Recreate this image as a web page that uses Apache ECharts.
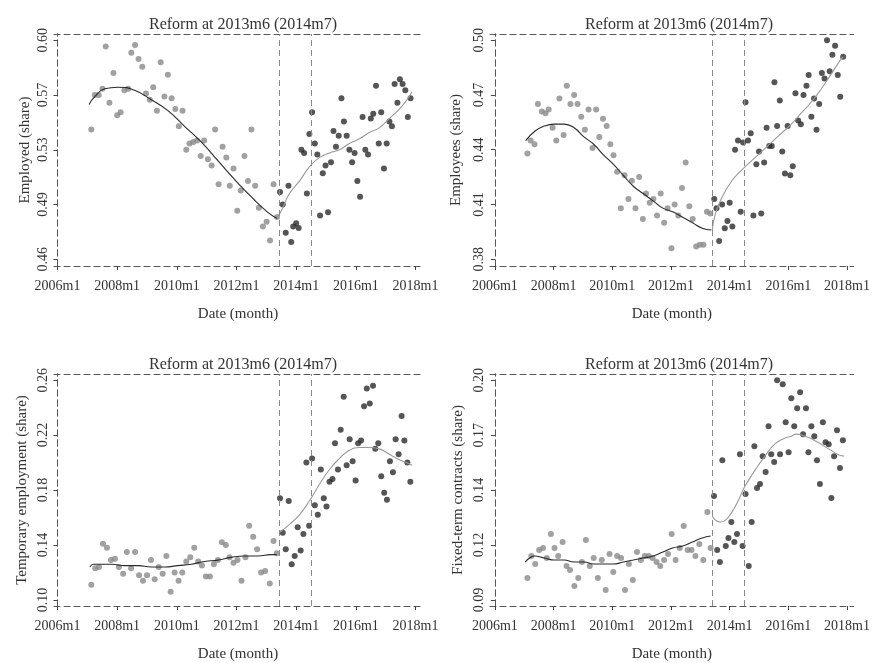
<!DOCTYPE html>
<html>
<head>
<meta charset="utf-8">
<title>Reform at 2013m6 (2014m7)</title>
<script src="https://cdn.jsdelivr.net/npm/echarts@6/dist/echarts.min.js"></script>
<style>
  html, body { margin: 0; background: #fff; }
  #chart { width: 873px; height: 663px; }
</style>
</head>
<body>
<div id="chart"></div>
<script>
// x values are months counted from 2006m1 (= 0)
const panelTitle = 'Reform at 2013m6 (2014m7)';
const reformDates = [89, 102]; // 2013m6, 2014m7
const xTicks = [0, 24, 48, 72, 96, 120, 144];

// Employed (share)
const employedTicks = [0.46, 0.495, 0.53, 0.565, 0.60];
const employedLabels = ['0.46', '0.49', '0.53', '0.57', '0.60'];
const employedPre = [[13.6,0.543],[15.0,0.565],[16.6,0.565],[18.1,0.569],[19.4,0.596],[20.9,0.560],[22.5,0.579],[24.0,0.552],[25.4,0.554],[26.9,0.568],[28.4,0.569],[29.7,0.592],[31.2,0.597],[32.6,0.588],[34.1,0.583],[35.6,0.566],[37.1,0.562],[38.5,0.570],[40.0,0.555],[41.5,0.586],[43.0,0.564],[44.4,0.578],[45.9,0.563],[47.4,0.556],[48.8,0.545],[50.3,0.555],[51.8,0.530],[53.1,0.534],[54.6,0.535],[56.1,0.536],[57.6,0.526],[59.0,0.536],[60.5,0.524],[62.0,0.520],[63.4,0.543],[64.8,0.508],[66.4,0.532],[67.9,0.525],[69.3,0.507],[70.8,0.518],[72.3,0.491],[73.7,0.504],[75.2,0.526],[76.6,0.510],[78.0,0.543],[79.5,0.507],[81.0,0.493],[82.6,0.481],[84.1,0.484],[85.5,0.472],[86.9,0.508],[88.3,0.487]];
const employedPost = [[89.5,0.503],[90.6,0.495],[91.8,0.477],[92.9,0.507],[94.0,0.471],[94.8,0.481],[96.0,0.483],[97.0,0.480],[98.1,0.530],[99.2,0.528],[100.3,0.502],[101.3,0.540],[102.4,0.554],[103.5,0.534],[104.5,0.527],[105.6,0.488],[106.7,0.515],[107.8,0.520],[108.8,0.490],[110.0,0.522],[111.0,0.542],[112.0,0.532],[113.1,0.539],[114.2,0.563],[115.2,0.548],[116.3,0.539],[117.4,0.530],[118.5,0.522],[119.5,0.528],[120.6,0.510],[121.7,0.500],[122.7,0.551],[123.8,0.530],[124.9,0.527],[126.0,0.550],[127.0,0.553],[128.1,0.571],[129.2,0.534],[130.2,0.554],[131.3,0.518],[132.4,0.534],[133.5,0.548],[134.5,0.545],[135.6,0.572],[136.7,0.560],[137.7,0.575],[138.8,0.572],[139.9,0.568],[140.9,0.551],[142.0,0.563]];
const employedFitPre = [[12.7,0.559],[15.0,0.564],[19.0,0.569],[24.3,0.570],[31.0,0.568],[37.7,0.562],[44.4,0.555],[51.1,0.545],[57.8,0.535],[64.5,0.523],[71.2,0.511],[77.9,0.500],[84.6,0.490],[88.4,0.486]];
const employedFitPost = [[88.4,0.486],[90.6,0.493],[93.3,0.502],[97.3,0.510],[101.3,0.519],[105.3,0.525],[109.4,0.528],[113.4,0.530],[117.4,0.534],[121.4,0.537],[125.4,0.541],[129.4,0.544],[133.5,0.550],[137.5,0.556],[140.1,0.561],[142.6,0.567]];

// Employees (share)
const employeesTicks = [0.38, 0.41, 0.44, 0.47, 0.50];
const employeesLabels = ['0.38', '0.41', '0.44', '0.47', '0.50'];
const employeesPre = [[13.3,0.438],[14.6,0.445],[16.2,0.443],[17.6,0.465],[19.2,0.461],[20.7,0.460],[22.0,0.462],[23.6,0.452],[25.1,0.445],[26.4,0.468],[28.1,0.448],[29.4,0.475],[30.9,0.465],[32.4,0.470],[33.8,0.465],[35.3,0.458],[36.8,0.451],[38.3,0.462],[39.9,0.441],[41.4,0.462],[42.7,0.447],[44.2,0.457],[45.7,0.453],[47.2,0.443],[48.5,0.437],[50.0,0.428],[51.5,0.408],[53.0,0.426],[54.6,0.413],[56.0,0.423],[57.5,0.408],[59.0,0.425],[60.5,0.402],[61.8,0.416],[63.3,0.411],[64.8,0.413],[66.3,0.404],[67.8,0.416],[69.2,0.400],[70.6,0.408],[72.2,0.386],[73.5,0.410],[75.0,0.404],[76.5,0.419],[78.0,0.433],[79.5,0.409],[80.9,0.402],[82.3,0.387],[83.8,0.388],[85.3,0.388],[86.7,0.406],[88.1,0.405]];
const employeesPost = [[89.7,0.413],[90.6,0.408],[91.7,0.390],[92.9,0.410],[94.0,0.397],[95.1,0.401],[96.0,0.411],[97.1,0.398],[98.2,0.440],[99.4,0.445],[100.5,0.406],[101.5,0.444],[102.5,0.466],[103.5,0.445],[104.6,0.449],[105.7,0.404],[106.9,0.432],[108.0,0.439],[108.9,0.405],[110.1,0.433],[111.1,0.452],[112.2,0.442],[113.2,0.442],[114.3,0.477],[115.4,0.453],[116.5,0.467],[117.5,0.439],[118.6,0.427],[119.7,0.453],[120.8,0.426],[121.8,0.431],[122.9,0.471],[124.0,0.456],[125.1,0.454],[126.2,0.470],[127.4,0.475],[128.3,0.481],[129.4,0.458],[130.5,0.468],[131.5,0.451],[132.6,0.465],[133.7,0.482],[134.8,0.479],[135.8,0.500],[136.9,0.483],[138.0,0.492],[139.1,0.497],[140.2,0.481],[141.2,0.469],[142.4,0.491]];
const employeesFitPre = [[12.6,0.445],[16.2,0.450],[20.3,0.453],[24.3,0.454],[28.3,0.454],[32.4,0.452],[36.4,0.447],[40.4,0.443],[44.5,0.437],[48.5,0.432],[52.5,0.426],[56.6,0.420],[60.6,0.416],[64.7,0.412],[68.7,0.408],[72.7,0.406],[76.8,0.403],[80.8,0.400],[84.8,0.397],[88.5,0.396]];
const employeesFitPost = [[88.9,0.396],[90.2,0.405],[92.9,0.414],[96.9,0.423],[101.0,0.429],[105.0,0.434],[109.1,0.439],[113.1,0.444],[117.1,0.449],[121.2,0.454],[125.2,0.460],[129.3,0.466],[133.3,0.473],[137.3,0.481],[140.7,0.488],[142.4,0.491]];

// Temporary employment (share)
const temporaryTicks = [0.10, 0.14, 0.18, 0.22, 0.26];
const temporaryLabels = ['0.10', '0.14', '0.18', '0.22', '0.26'];
const temporaryPre = [[13.6,0.111],[15.2,0.123],[16.7,0.124],[18.3,0.141],[19.9,0.138],[21.5,0.129],[23.1,0.130],[24.7,0.124],[26.4,0.119],[27.9,0.135],[29.6,0.123],[31.2,0.135],[32.8,0.118],[34.4,0.114],[36.0,0.118],[37.6,0.129],[39.1,0.115],[40.7,0.124],[42.3,0.119],[43.8,0.132],[45.5,0.106],[47.1,0.120],[48.7,0.114],[50.2,0.120],[51.8,0.128],[53.4,0.131],[55.0,0.138],[56.6,0.128],[58.1,0.125],[59.7,0.117],[61.3,0.117],[62.9,0.126],[64.5,0.129],[66.1,0.142],[67.7,0.140],[69.2,0.131],[70.8,0.127],[72.4,0.129],[74.0,0.114],[75.6,0.131],[77.1,0.154],[78.7,0.146],[80.3,0.137],[81.9,0.120],[83.5,0.121],[85.4,0.112],[86.9,0.143],[88.2,0.134]];
const temporaryPost = [[89.5,0.174],[90.6,0.149],[91.8,0.137],[93.0,0.172],[94.2,0.126],[95.4,0.132],[96.6,0.153],[97.8,0.136],[98.9,0.148],[100.1,0.200],[101.2,0.154],[102.4,0.203],[103.5,0.169],[104.7,0.162],[105.9,0.195],[107.1,0.174],[108.2,0.168],[109.4,0.186],[110.6,0.188],[111.6,0.214],[112.8,0.195],[113.9,0.224],[115.1,0.248],[116.3,0.198],[117.5,0.217],[118.7,0.201],[119.9,0.187],[120.9,0.214],[122.1,0.216],[123.3,0.241],[124.4,0.254],[125.6,0.243],[126.9,0.256],[127.8,0.210],[129.0,0.214],[130.2,0.190],[131.4,0.178],[132.5,0.173],[133.7,0.201],[134.9,0.193],[136.0,0.217],[137.2,0.206],[138.4,0.234],[139.5,0.216],[140.7,0.200],[141.9,0.186]];
const temporaryFitPre = [[13.0,0.124],[14.5,0.126],[16.3,0.126],[21.7,0.126],[27.0,0.125],[32.4,0.125],[37.7,0.124],[43.1,0.124],[48.4,0.125],[53.8,0.126],[59.2,0.128],[64.5,0.129],[69.9,0.131],[75.2,0.132],[80.6,0.132],[86.0,0.133],[88.2,0.133]];
const temporaryFitPost = [[89.3,0.149],[93.3,0.155],[97.3,0.162],[101.3,0.172],[105.3,0.184],[109.4,0.195],[113.4,0.203],[117.4,0.209],[121.4,0.211],[125.4,0.211],[129.4,0.210],[133.5,0.206],[137.5,0.202],[140.2,0.200],[142.6,0.198]];

// Fixed-term contracts (share)
const fixedTicks = [0.09, 0.1175, 0.145, 0.1725, 0.20];
const fixedLabels = ['0.09', '0.12', '0.14', '0.17', '0.20'];
const fixedPre = [[13.3,0.101],[14.9,0.112],[16.5,0.108],[18.1,0.115],[19.7,0.116],[21.2,0.111],[22.9,0.123],[24.4,0.116],[25.9,0.112],[27.7,0.119],[29.3,0.107],[30.7,0.105],[32.5,0.097],[34.1,0.101],[35.6,0.109],[37.2,0.120],[38.8,0.107],[40.4,0.111],[42.1,0.101],[43.7,0.110],[45.3,0.095],[46.9,0.113],[48.4,0.104],[50.0,0.112],[51.6,0.111],[53.2,0.095],[54.8,0.108],[56.4,0.100],[58.1,0.114],[59.7,0.110],[61.3,0.112],[62.9,0.112],[64.5,0.111],[66.1,0.109],[67.6,0.107],[69.2,0.110],[70.8,0.113],[72.3,0.123],[73.9,0.110],[75.6,0.116],[77.2,0.127],[78.8,0.115],[80.4,0.115],[82.0,0.112],[83.6,0.118],[85.2,0.110],[86.9,0.134],[88.2,0.116]];
const fixedPost = [[89.6,0.142],[90.9,0.115],[92.0,0.109],[93.0,0.160],[94.4,0.117],[95.5,0.121],[96.7,0.129],[97.9,0.119],[99.0,0.123],[100.2,0.163],[101.3,0.117],[102.5,0.143],[103.8,0.107],[105.0,0.129],[106.1,0.167],[107.2,0.146],[108.4,0.148],[109.5,0.162],[110.7,0.154],[111.9,0.177],[113.0,0.163],[114.2,0.159],[115.4,0.200],[116.6,0.163],[117.7,0.198],[118.9,0.179],[120.1,0.164],[121.2,0.191],[122.4,0.177],[123.6,0.186],[124.8,0.194],[126.0,0.173],[127.2,0.186],[128.2,0.164],[129.4,0.177],[130.6,0.172],[131.7,0.160],[132.9,0.148],[134.1,0.179],[135.2,0.169],[136.5,0.168],[137.6,0.141],[138.7,0.162],[139.9,0.175],[141.1,0.156],[142.3,0.170]];
const fixedFitPre = [[12.4,0.109],[14.2,0.111],[16.2,0.112],[20.3,0.111],[24.3,0.110],[28.3,0.110],[32.4,0.109],[36.4,0.109],[40.4,0.108],[44.5,0.108],[48.5,0.108],[52.5,0.109],[56.6,0.110],[60.6,0.111],[64.7,0.112],[68.7,0.114],[72.7,0.116],[76.8,0.117],[80.8,0.119],[84.8,0.121],[88.2,0.122]];
const fixedFitPost = [[88.9,0.132],[90.2,0.130],[92.2,0.129],[94.3,0.130],[96.9,0.134],[99.6,0.140],[102.3,0.147],[106.4,0.155],[110.4,0.162],[114.4,0.168],[118.5,0.171],[121.2,0.172],[123.2,0.173],[126.6,0.172],[130.6,0.170],[134.6,0.167],[137.3,0.165],[140.0,0.163],[142.7,0.162]];

const panels = [
  { name: 'Employed (share)', ticks: employedTicks, labels: employedLabels, yMin: 0.4557, yMax: 0.6040,
    pre: employedPre, post: employedPost, fitPre: employedFitPre, fitPost: employedFitPost },
  { name: 'Employees (share)', ticks: employeesTicks, labels: employeesLabels, yMin: 0.3763, yMax: 0.5034,
    pre: employeesPre, post: employeesPost, fitPre: employeesFitPre, fitPost: employeesFitPost },
  { name: 'Temporary employment (share)', ticks: temporaryTicks, labels: temporaryLabels, yMin: 0.0956, yMax: 0.2645,
    pre: temporaryPre, post: temporaryPost, fitPre: temporaryFitPre, fitPost: temporaryFitPost },
  { name: 'Fixed-term contracts (share)', ticks: fixedTicks, labels: fixedLabels, yMin: 0.0870, yMax: 0.2031,
    pre: fixedPre, post: fixedPost, fitPre: fixedFitPre, fitPost: fixedFitPost }
];

// plot boxes (pixels) and x ranges of each panel
const layout = [
  { left: 54, top: 34, width: 368, height: 232, xMin: -1.4, xMax: 146.6, titleTop: 12, nameGap: 21 },
  { left: 490, top: 34, width: 368, height: 232, xMin: -2.0, xMax: 146.7, titleTop: 12, nameGap: 26 },
  { left: 54, top: 374, width: 368, height: 232, xMin: -1.4, xMax: 146.6, titleTop: 352, nameGap: 24 },
  { left: 490, top: 374, width: 368, height: 232, xMin: -2.0, xMax: 146.7, titleTop: 352, nameGap: 24 }
];

const FONT = '"Liberation Serif", "DejaVu Serif", "Times New Roman", serif';
const TEXT = '#333';
const boxLine = { show: true, lineStyle: { color: '#555', width: 1, type: [6, 4] } };
const hidden = { show: false };

function monthLabel(m) {
  return (2006 + Math.floor(m / 12)) + 'm' + (m % 12 + 1);
}

const chart = echarts.init(document.getElementById('chart'));
const option = {
  animation: false,
  backgroundColor: '#fff',
  textStyle: { fontFamily: FONT },
  title: [], grid: [], xAxis: [], yAxis: [], series: []
};

panels.forEach((p, i) => {
  const g = layout[i];
  option.title.push({
    text: panelTitle,
    left: g.left + g.width / 2,
    top: g.titleTop,
    textAlign: 'center',
    textStyle: { fontFamily: FONT, fontSize: 16, fontWeight: 'normal', color: TEXT }
  });
  option.grid.push({ left: g.left, top: g.top, width: g.width, height: g.height });

  // bottom axis + top border
  option.xAxis.push({
    type: 'value', gridIndex: i, min: g.xMin, max: g.xMax,
    name: 'Date (month)', nameLocation: 'middle', nameGap: 41,
    nameTextStyle: { fontFamily: FONT, fontSize: 15, color: TEXT },
    axisLine: boxLine,
    axisTick: { show: true, length: 4, customValues: xTicks, lineStyle: { color: '#444' } },
    axisLabel: { customValues: xTicks, formatter: monthLabel, margin: 13, fontSize: 14, color: TEXT, fontFamily: FONT },
    splitLine: hidden
  });
  option.xAxis.push({
    type: 'value', gridIndex: i, position: 'top', min: g.xMin, max: g.xMax,
    axisLine: boxLine, axisTick: hidden, axisLabel: hidden, splitLine: hidden
  });

  // left axis + right border
  option.yAxis.push({
    type: 'value', gridIndex: i, min: p.yMin, max: p.yMax,
    name: p.name, nameLocation: 'middle', nameGap: g.nameGap, nameRotate: 90,
    nameTextStyle: { fontFamily: FONT, fontSize: 15, color: TEXT },
    axisLine: boxLine,
    axisTick: { show: true, length: 4, customValues: p.ticks, lineStyle: { color: '#444' } },
    axisLabel: {
      customValues: p.ticks, rotate: 90, margin: 4, fontSize: 14, color: TEXT, fontFamily: FONT,
      formatter: v => p.labels[p.ticks.findIndex(t => Math.abs(t - v) < 1e-6)]
    },
    splitLine: hidden
  });
  option.yAxis.push({
    type: 'value', gridIndex: i, position: 'right', min: p.yMin, max: p.yMax,
    axisLine: boxLine, axisTick: hidden, axisLabel: hidden, splitLine: hidden
  });

  const xi = i * 2, yi = i * 2;
  option.series.push({
    type: 'scatter', xAxisIndex: xi, yAxisIndex: yi, data: p.pre,
    symbolSize: 6, itemStyle: { color: '#8a8a8a' }, z: 2,
    markLine: {
      silent: true, symbol: ['none', 'none'], label: hidden,
      lineStyle: { color: '#8a8a8a', width: 1, type: [6, 4] },
      data: reformDates.map(d => ({ xAxis: d }))
    }
  });
  option.series.push({
    type: 'scatter', xAxisIndex: xi, yAxisIndex: yi, data: p.post,
    symbolSize: 6, itemStyle: { color: '#2b2b2b' }, z: 2
  });
  option.series.push({
    type: 'line', xAxisIndex: xi, yAxisIndex: yi, data: p.fitPre, smooth: true,
    showSymbol: false, lineStyle: { color: '#2a2a2a', width: 1.1 }, z: 3
  });
  option.series.push({
    type: 'line', xAxisIndex: xi, yAxisIndex: yi, data: p.fitPost, smooth: true,
    showSymbol: false, lineStyle: { color: '#9a9a9a', width: 1.1 }, z: 3
  });
});

chart.setOption(option);
</script>
</body>
</html>
